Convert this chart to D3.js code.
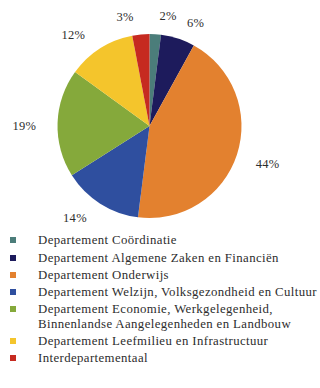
<!DOCTYPE html>
<html>
<head>
<meta charset="utf-8">
<script src="https://cdn.jsdelivr.net/npm/d3@7"></script>
<style>
  html, body { margin: 0; padding: 0; background: #ffffff; }
  svg text { font-family: "Liberation Serif", "DejaVu Serif", serif; fill: #2d2d2d; }
</style>
</head>
<body>
<svg id="chart" width="320" height="388"></svg>
<script>
// Share of budget per department (percent), clockwise from 12 o'clock
const categories = [
  "Departement Coördinatie",
  "Departement Algemene Zaken en Financiën",
  "Departement Onderwijs",
  "Departement Welzijn, Volksgezondheid en Cultuur",
  "Departement Economie, Werkgelegenheid,|Binnenlandse Aangelegenheden en Landbouw",
  "Departement Leefmilieu en Infrastructuur",
  "Interdepartementaal"
];
const values = [2, 6, 44, 14, 19, 12, 3];
const colors = ["#4b7d7a", "#1d1b5c", "#e3812f", "#2f4f9f", "#85a93b", "#f4c52c", "#c62a20"];
// Percentage label placement: radial factor and angular nudge (degrees) per slice
const labelRadius = [1.21, 1.23, 1.35, 1.29, 1.36, 1.29, 1.21];
const labelNudge = [6, 6, 0, 6.5, -2, -7.5, -7.3];

const svg = d3.select("#chart");
const cx = 149.5, cy = 126, r = 92;

const pie = d3.pie().sort(null).value(d => d)(values);
const arc = d3.arc().innerRadius(0).outerRadius(r);

const g = svg.append("g").attr("transform", `translate(${cx},${cy})`);
g.selectAll("path.slice")
  .data(pie)
  .join("path")
  .attr("class", "slice")
  .attr("d", arc)
  .attr("fill", (d, i) => colors[i]);

g.selectAll("text.pct")
  .data(pie)
  .join("text")
  .attr("class", "pct")
  .attr("transform", (d, i) => {
    const a = (d.startAngle + d.endAngle) / 2 + labelNudge[i] * Math.PI / 180;
    const rr = r * labelRadius[i];
    return `translate(${Math.sin(a) * rr},${-Math.cos(a) * rr})`;
  })
  .attr("text-anchor", "middle")
  .attr("dominant-baseline", "central")
  .attr("font-size", 12.5)
  .attr("letter-spacing", 0.3)
  .text((d, i) => values[i] + "%");

// Legend
const legendY = [240, 258, 275, 292, 309, 341, 358];
const legend = svg.append("g");
categories.forEach((c, i) => {
  const y = legendY[i];
  legend.append("rect")
    .attr("x", 10).attr("y", y - 3)
    .attr("width", 6).attr("height", 6)
    .attr("fill", colors[i]);
  const lines = c.split("|");
  lines.forEach((ln, j) => {
    legend.append("text")
      .attr("x", 38).attr("y", y + j * 14.5)
      .attr("dominant-baseline", "central")
      .attr("font-size", 12.8)
      .attr("letter-spacing", 0.4)
      .text(ln);
  });
});
</script>
</body>
</html>
